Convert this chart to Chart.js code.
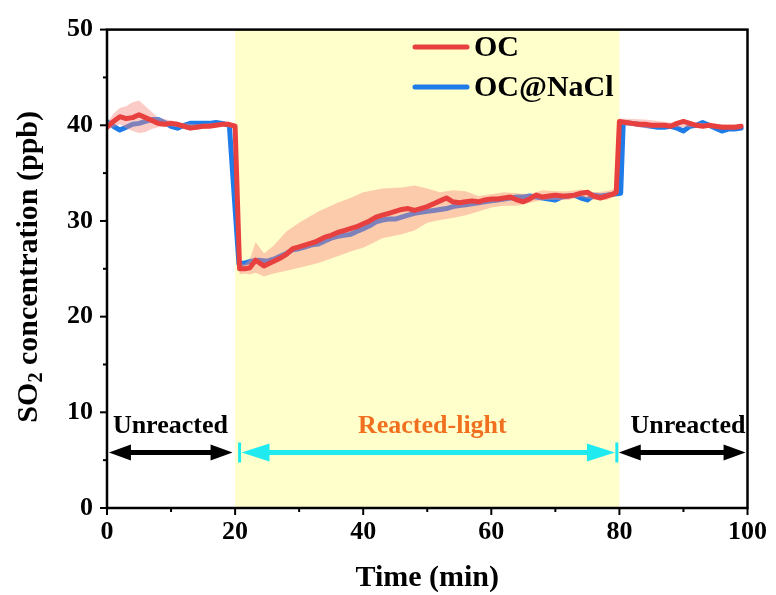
<!DOCTYPE html>
<html>
<head>
<meta charset="utf-8">
<script src="https://cdn.jsdelivr.net/npm/chart.js@4.4.1/dist/chart.umd.min.js"></script>
<style>
  html, body { margin: 0; padding: 0; background: #fff; }
  #wrap { width: 776px; height: 595px; }
</style>
</head>
<body>
<div id="wrap"><canvas id="grafica" width="776" height="595"></canvas></div>
<script>
// Datos
const ocTime = [0, 1, 2, 3, 4, 5, 6, 7, 8, 9, 10, 11, 12, 13, 14, 15, 16, 17, 18, 19, 20,
  20.7, 21.5, 22.3, 23.2, 24.5, 25.8, 27, 28, 29, 30, 31, 32.5, 34, 35, 36, 37, 38, 39, 40,
  41, 42, 43, 44, 45, 46, 47, 48, 49, 50, 51, 52, 53, 54, 55, 56, 57, 58, 59, 60,
  61, 62, 63, 64, 65, 66, 67, 68, 69, 70, 71, 72, 73, 74, 75, 76, 77, 78, 79, 79.5,
  80, 81, 82, 83, 84, 85, 86, 87, 88, 89, 90, 91, 92, 93, 94, 95, 96, 97, 98, 99];
const ocValue = [39.8, 40.4, 40.9, 40.7, 40.8, 41.1, 40.8, 40.5, 40.2, 40.1, 40.2, 40.1, 39.9, 39.7, 39.8, 39.9, 39.9, 40.0, 40.1, 40.1, 39.9,
  25.0, 25.0, 25.1, 25.9, 25.3, 25.7, 26.1, 26.5, 27.1, 27.3, 27.5, 27.8, 28.3, 28.5, 28.8, 29.0, 29.2, 29.4, 29.7,
  30.0, 30.4, 30.6, 30.8, 31.0, 31.2, 31.3, 31.1, 31.3, 31.5, 31.8, 32.1, 32.4, 32.0, 31.9, 32.0, 32.1, 32.0, 32.2, 32.3,
  32.3, 32.4, 32.5, 32.2, 32.0, 32.3, 32.7, 32.5, 32.6, 32.7, 32.6, 32.6, 32.7, 32.9, 33.0, 32.6, 32.4, 32.6, 32.8, 33.0,
  40.4, 40.3, 40.2, 40.1, 40.1, 40.0, 40.0, 40.0, 39.9, 40.2, 40.4, 40.2, 40.0, 39.9, 40.0, 39.9, 39.8, 39.8, 39.8, 39.9];

const naclTime = [0, 1, 2, 3, 4, 5, 6, 7, 8, 9, 10, 11, 12, 13, 14, 15, 16, 17, 18, 19.1,
  20.6, 21.5, 22.5, 23.7, 25, 26, 27, 28, 29, 30, 31, 32, 33, 34, 35, 36, 37, 38, 39, 40,
  41, 42, 43, 44, 45, 46, 47, 48, 49, 50, 51, 52, 53, 54, 55, 56, 57, 58, 59, 60,
  61, 62, 63, 64, 65, 66, 67, 68, 69, 70, 71, 72, 73, 74, 75, 76, 77, 78, 79, 80.2,
  80.6, 81, 82, 83, 84, 85, 86, 87, 88, 89, 90, 91, 92, 93, 94, 95, 96, 97, 98, 99];
const naclValue = [40.4, 39.9, 39.5, 39.8, 40.1, 40.2, 40.4, 40.6, 40.6, 40.3, 39.9, 39.7, 40.0, 40.2, 40.2, 40.2, 40.2, 40.3, 40.2, 40.0,
  25.5, 25.6, 25.8, 25.9, 25.8, 26.0, 26.3, 26.6, 27.0, 27.1, 27.3, 27.5, 27.6, 27.9, 28.2, 28.4, 28.5, 28.6, 28.9, 29.2,
  29.5, 29.9, 30.1, 30.2, 30.2, 30.4, 30.6, 30.8, 30.9, 31.0, 31.1, 31.2, 31.3, 31.5, 31.6, 31.7, 31.8, 31.9, 32.0, 32.1,
  32.2, 32.3, 32.4, 32.5, 32.5, 32.6, 32.5, 32.4, 32.3, 32.2, 32.5, 32.6, 32.7, 32.4, 32.2, 32.7, 32.6, 32.7, 32.8, 32.9,
  40.3, 40.3, 40.2, 40.1, 40.0, 39.9, 39.8, 39.8, 39.9, 39.7, 39.4, 39.9, 40.0, 40.3, 40.0, 39.7, 39.4, 39.6, 39.6, 39.7];

// Banda de desviación de OC
const bandTime = [0, 1, 2, 3, 4, 5, 6, 7, 8, 10, 12, 14, 16, 18, 20,
  20.7, 21.5, 22.3, 23.2, 24.5, 26, 28, 30, 33, 36, 38, 40, 43, 46, 48,
  50, 52, 54, 56, 58, 60, 62, 64, 66, 68, 70, 72, 74, 76, 78, 79.5,
  80, 84, 88, 92, 96, 99];
const bandUpper = [40.2, 41.2, 41.8, 42.0, 42.4, 42.6, 42.0, 41.4, 40.8, 40.5, 40.2, 40.1, 40.2, 40.3, 40.2,
  25.6, 25.5, 26.0, 27.8, 26.6, 27.4, 28.9, 29.8, 31.0, 31.9, 32.4, 33.0, 33.4, 33.5, 33.7,
  33.4, 33.0, 33.2, 33.1, 32.6, 32.8, 33.0, 32.9, 32.8, 33.2, 33.1, 33.1, 33.3, 33.0, 33.1, 33.4,
  40.7, 40.6, 40.3, 40.3, 40.1, 40.1];
const bandLower = [39.5, 39.8, 40.1, 39.7, 39.4, 39.2, 39.3, 39.6, 39.8, 39.9, 39.7, 39.6, 39.7, 39.9, 39.7,
  24.4, 24.5, 24.4, 24.6, 24.2, 24.5, 24.8, 25.1, 25.6, 26.3, 26.8, 27.2, 28.2, 28.6, 29.0,
  29.8, 30.1, 30.3, 30.6, 31.0, 31.4, 31.6, 31.6, 31.9, 32.2, 32.2, 32.2, 32.5, 32.2, 32.2, 32.6,
  40.1, 39.7, 39.8, 39.8, 39.6, 39.7];

const xTicks = [0, 20, 40, 60, 80, 100];
const yTicks = [0, 10, 20, 30, 40, 50];
const lightStart = 20;
const lightEnd = 80;

const ROJO = '#E8403F';
const AZUL = '#1E7BE8';
const FUENTE = "'Liberation Serif', 'Times New Roman', serif";

function puntos(ts, vs) {
  return ts.map((t, i) => ({ x: t, y: vs[i] }));
}

// Flecha doble horizontal
function flechaDoble(ctx, x0, x1, y, color, grosor, largo, alto) {
  ctx.save();
  ctx.fillStyle = color;
  ctx.strokeStyle = color;
  ctx.lineWidth = grosor;
  ctx.beginPath();
  ctx.moveTo(x0 + largo - 2, y);
  ctx.lineTo(x1 - largo + 2, y);
  ctx.stroke();
  ctx.beginPath();
  ctx.moveTo(x0, y);
  ctx.lineTo(x0 + largo, y - alto);
  ctx.lineTo(x0 + largo, y + alto);
  ctx.closePath();
  ctx.fill();
  ctx.beginPath();
  ctx.moveTo(x1, y);
  ctx.lineTo(x1 - largo, y - alto);
  ctx.lineTo(x1 - largo, y + alto);
  ctx.closePath();
  ctx.fill();
  ctx.restore();
}

// Zona iluminada (fondo amarillo)
const zonaLuz = {
  id: 'zonaLuz',
  beforeDatasetsDraw(chart) {
    const { ctx, chartArea: a, scales: { x } } = chart;
    const x0 = x.getPixelForValue(lightStart);
    const x1 = x.getPixelForValue(lightEnd);
    ctx.save();
    ctx.fillStyle = '#FFFFCC';
    ctx.fillRect(x0, a.top, x1 - x0, a.bottom - a.top);
    ctx.restore();
  }
};

// Flechas, etiquetas, marco, ejes y leyenda
const decoracion = {
  id: 'decoracion',
  afterDatasetsDraw(chart) {
    const { ctx, scales: { x, y } } = chart;
    const yf = y.getPixelForValue(5.8);
    const yt = y.getPixelForValue(8.5);
    flechaDoble(ctx, x.getPixelForValue(0.3), x.getPixelForValue(19.6), yf, '#000', 5, 22, 8);
    flechaDoble(ctx, x.getPixelForValue(21.0), x.getPixelForValue(79.3), yf, '#1EEAF0', 5, 28, 9);
    flechaDoble(ctx, x.getPixelForValue(79.9), x.getPixelForValue(99.7), yf, '#000', 5, 22, 8);
    ctx.save();
    ctx.strokeStyle = '#1EEAF0';
    ctx.lineWidth = 3;
    [20.7, 79.6].forEach(v => {
      const px = x.getPixelForValue(v);
      ctx.beginPath();
      ctx.moveTo(px, yf - 10);
      ctx.lineTo(px, yf + 10);
      ctx.stroke();
    });
    ctx.font = 'bold 26px ' + FUENTE;
    ctx.textAlign = 'center';
    ctx.textBaseline = 'middle';
    ctx.fillStyle = '#000';
    ctx.fillText('Unreacted', x.getPixelForValue(9.9), yt);
    ctx.fillText('Unreacted', x.getPixelForValue(90.7), yt);
    ctx.fillStyle = '#F07020';
    ctx.fillText('Reacted-light', x.getPixelForValue(50.8), yt);
    ctx.restore();
  },
  afterDraw(chart) {
    const { ctx, chartArea: a, scales: { x, y } } = chart;
    ctx.save();
    ctx.strokeStyle = '#000';
    ctx.lineWidth = 2.5;
    ctx.strokeRect(a.left, a.top, a.right - a.left, a.bottom - a.top);
    // marcas principales y secundarias
    ctx.lineWidth = 2;
    for (let v = 0; v <= 100; v += 10) {
      const px = x.getPixelForValue(v);
      const l = v % 20 === 0 ? 7 : 4;
      ctx.beginPath();
      ctx.moveTo(px, a.bottom);
      ctx.lineTo(px, a.bottom + l);
      ctx.stroke();
    }
    for (let v = 0; v <= 50; v += 5) {
      const py = y.getPixelForValue(v);
      const l = v % 10 === 0 ? 7 : 4;
      ctx.beginPath();
      ctx.moveTo(a.left, py);
      ctx.lineTo(a.left - l, py);
      ctx.stroke();
    }
    // título del eje x
    ctx.fillStyle = '#000';
    ctx.font = 'bold 30px ' + FUENTE;
    ctx.textAlign = 'center';
    ctx.textBaseline = 'middle';
    ctx.fillText('Time (min)', (a.left + a.right) / 2, 578);
    // título del eje y con subíndice
    ctx.translate(29, (a.top + a.bottom) / 2 - 2);
    ctx.rotate(-Math.PI / 2);
    const f1 = 'bold 30px ' + FUENTE;
    const f2 = 'bold 20px ' + FUENTE;
    ctx.font = f1;
    const wSO = ctx.measureText('SO').width;
    const wResto = ctx.measureText(' concentration (ppb)').width;
    ctx.font = f2;
    const w2 = ctx.measureText('2').width;
    let cx = -(wSO + w2 + wResto) / 2;
    ctx.textAlign = 'left';
    ctx.font = f1;
    ctx.fillText('SO', cx, 0);
    cx += wSO;
    ctx.font = f2;
    ctx.fillText('2', cx, 8);
    cx += w2;
    ctx.font = f1;
    ctx.fillText(' concentration (ppb)', cx, 0);
    ctx.restore();
    // leyenda
    ctx.save();
    ctx.lineWidth = 5;
    ctx.lineCap = 'round';
    ctx.font = 'bold 30px ' + FUENTE;
    ctx.textBaseline = 'middle';
    ctx.fillStyle = '#000';
    [[ROJO, 'OC', 47], [AZUL, 'OC@NaCl', 87]].forEach(([c, t, ly]) => {
      ctx.strokeStyle = c;
      ctx.beginPath();
      ctx.moveTo(415, ly);
      ctx.lineTo(467, ly);
      ctx.stroke();
      ctx.fillText(t, 474, ly + 1);
    });
    ctx.restore();
  }
};

const ctx = document.getElementById('grafica').getContext('2d');
const grafica = new Chart(ctx, {
  type: 'line',
  data: {
    datasets: [
      {
        label: 'OC',
        data: puntos(ocTime, ocValue),
        borderColor: ROJO,
        borderWidth: 5,
        pointRadius: 0,
        fill: false,
        order: 0
      },
      {
        label: 'banda-sup',
        data: puntos(bandTime, bandUpper),
        borderWidth: 0,
        borderColor: 'rgba(0,0,0,0)',
        backgroundColor: 'rgba(246, 140, 130, 0.45)',
        pointRadius: 0,
        fill: '+1',
        order: 1
      },
      {
        label: 'banda-inf',
        data: puntos(bandTime, bandLower),
        borderWidth: 0,
        borderColor: 'rgba(0,0,0,0)',
        pointRadius: 0,
        fill: false,
        order: 1
      },
      {
        label: 'OC@NaCl',
        data: puntos(naclTime, naclValue),
        borderColor: AZUL,
        borderWidth: 5,
        pointRadius: 0,
        fill: false,
        order: 2
      }
    ]
  },
  options: {
    responsive: false,
    animation: false,
    layout: { padding: { top: 22, right: 24, left: 0, bottom: 0 } },
    elements: { line: { tension: 0, borderJoinStyle: 'round', borderCapStyle: 'round' } },
    plugins: {
      legend: { display: false },
      tooltip: { enabled: false }
    },
    scales: {
      x: {
        type: 'linear',
        min: 0,
        max: 100,
        afterFit(s) { s.height = 87; },
        afterBuildTicks(s) { s.ticks = xTicks.map(v => ({ value: v })); },
        grid: { display: false, drawTicks: false },
        border: { display: false },
        ticks: {
          padding: 9,
          color: '#000',
          maxRotation: 0,
          font: { family: FUENTE, size: 26, weight: 'bold' }
        }
      },
      y: {
        min: 0,
        max: 50,
        afterFit(s) { s.width = 107; },
        afterBuildTicks(s) { s.ticks = yTicks.map(v => ({ value: v })); },
        grid: { display: false, drawTicks: false },
        border: { display: false },
        ticks: {
          padding: 14,
          color: '#000',
          font: { family: FUENTE, size: 26, weight: 'bold' }
        }
      }
    }
  },
  plugins: [zonaLuz, decoracion]
});
</script>
</body>
</html>
